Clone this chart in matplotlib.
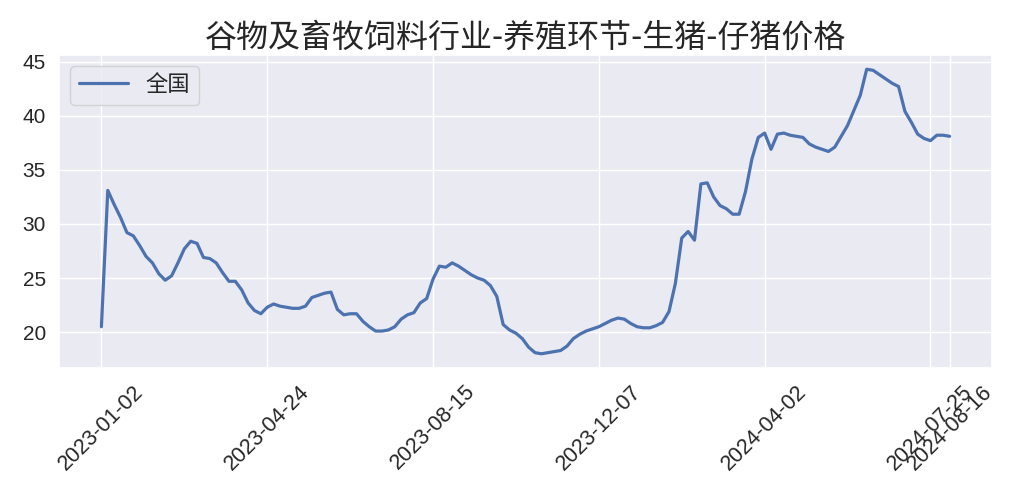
import matplotlib
matplotlib.use("Agg")
import matplotlib.pyplot as plt
import seaborn as sns

# tick labels (dates shown on the x axis, at evenly spaced index positions)
tick_labels = ["2023-01-02", "2023-04-24", "2023-08-15", "2023-12-07",
               "2024-04-02", "2024-07-25", "2024-08-16"]
tick_step = 26

# 仔猪价格 全国
values = [
    20.5, 33.1, 31.8, 30.6, 29.2, 28.9, 28.0, 27.0, 26.4, 25.4,
    24.8, 25.2, 26.4, 27.7, 28.4, 28.2, 26.9, 26.8, 26.4, 25.5,
    24.7, 24.7, 23.9, 22.7, 22.0, 21.7, 22.3, 22.6, 22.4, 22.3,
    22.2, 22.2, 22.4, 23.2, 23.4, 23.6, 23.7, 22.1, 21.6, 21.7,
    21.7, 21.0, 20.5, 20.1, 20.1, 20.2, 20.5, 21.2, 21.6, 21.8,
    22.7, 23.1, 24.9, 26.1, 26.0, 26.4, 26.1, 25.7, 25.3, 25.0,
    24.8, 24.3, 23.3, 20.7, 20.2, 19.9, 19.4, 18.6, 18.1, 18.0,
    18.1, 18.2, 18.3, 18.7, 19.4, 19.8, 20.1, 20.3, 20.5, 20.8,
    21.1, 21.3, 21.2, 20.8, 20.5, 20.4, 20.4, 20.6, 20.9, 21.9,
    24.5, 28.7, 29.3, 28.5, 33.7, 33.8, 32.5, 31.7, 31.4, 30.9,
    30.9, 33.0, 36.0, 38.0, 38.4, 36.9, 38.3, 38.4, 38.2, 38.1,
    38.0, 37.4, 37.1, 36.9, 36.7, 37.1, 38.1, 39.1, 40.5, 41.9,
    44.3, 44.2, 43.8, 43.4, 43.0, 42.7, 40.4, 39.4, 38.3, 37.9,
    37.7, 38.2, 38.2, 38.1,
]

sns.set_theme(style="darkgrid", font_scale=1.3)
plt.rcParams['font.family'] = ['Liberation Sans', 'Noto Sans CJK SC']
plt.rcParams['axes.unicode_minus'] = False

fig, ax = plt.subplots(figsize=(10.15, 5.0), dpi=100)
fig.subplots_adjust(left=59/1015, right=992/1015, top=1-55/500, bottom=1-368/500)

x = list(range(len(values)))
ax.plot(x, values, color="#4C72B0", linewidth=2.3, label="全国")

ticks = list(range(0, len(values), tick_step)) + [len(values) - 1]
ax.set_xticks(ticks)
ax.set_xticklabels(tick_labels, rotation=45, fontsize=15.5)
ax.set_yticks([20, 25, 30, 35, 40, 45])
ax.tick_params(axis='y', labelsize=15)

ax.set_title("谷物及畜牧饲料行业-养殖环节-生猪-仔猪价格",
             family=['Noto Sans CJK SC'], fontsize=23, pad=6)
ax.legend(loc="upper left", fontsize=16, handlelength=2.2)

fig.savefig("out.png", dpi=100)
